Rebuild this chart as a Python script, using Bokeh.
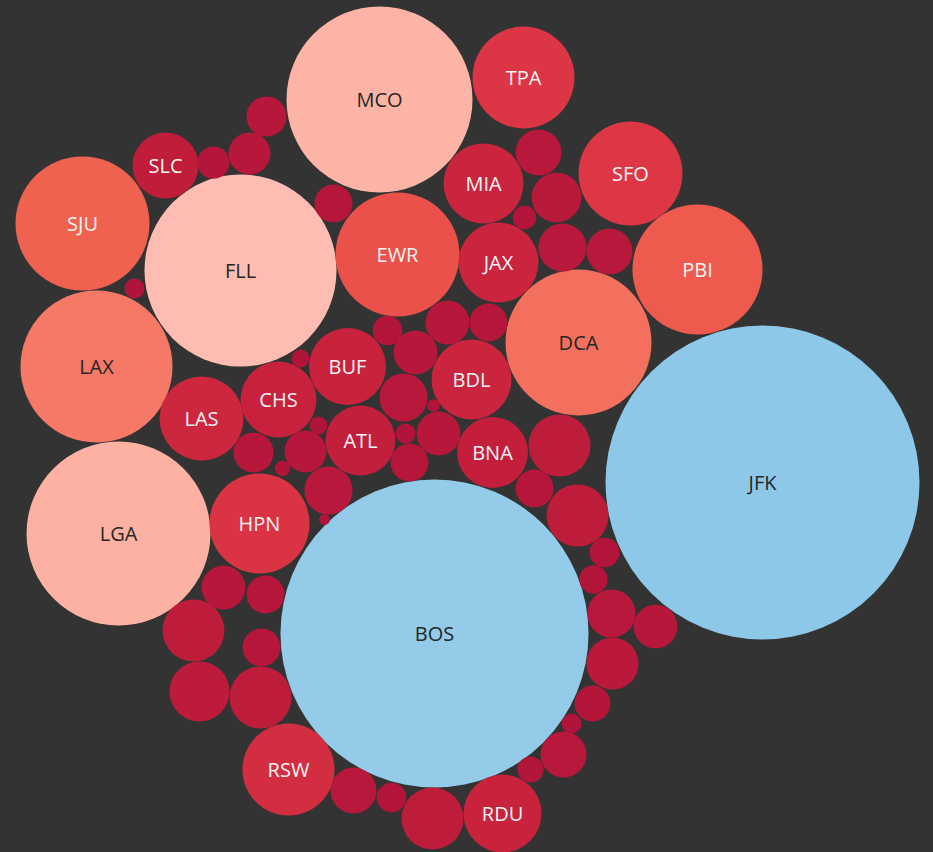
import math
from bokeh.plotting import figure
from bokeh.models import ColumnDataSource, Range1d
from bokeh.embed import file_html
from bokeh.resources import INLINE
from bokeh.core.properties import value

# ---- data ----
labelled_airports = ["JFK", "BOS", "FLL", "MCO", "LGA", "LAX", "DCA", "SJU", "PBI", "EWR",
                     "SFO", "TPA", "HPN", "RSW", "LAS", "MIA", "BDL", "JAX", "RDU", "BUF",
                     "CHS", "BNA", "ATL", "SLC"]
flights = [2465, 2372, 922, 865, 846, 578, 533, 449, 423, 384,
           270, 260, 250, 212, 176, 160, 160, 160, 152, 148,
           144, 126, 122, 109,
           40, 44, 26, 36, 10, 53, 62, 14, 58, 53, 48, 36, 22, 48, 8, 58, 4,
           8, 10, 48, 40, 44, 36, 6, 58, 3, 96, 36, 96, 22, 20, 58, 48,
           68, 32, 10, 53, 17, 53, 22, 96, 48, 36, 96, 36, 90, 96]
bubble_x = [762, 434, 240, 379, 118, 96, 578, 82, 697, 397,
            630, 523, 259, 288, 201, 483, 471, 498, 502, 347,
            278, 492, 360, 165,
            266, 249, 213, 333, 134, 538, 556, 524, 562, 609, 447, 488, 387, 415, 300, 403, 433,
            318, 405, 438, 253, 305, 409, 282, 328, 324, 559, 534, 577, 604, 593, 611, 655,
            612, 592, 571, 563, 530, 353, 391, 432, 223, 265, 193, 261, 199, 260]
bubble_y = [482, 633, 270, 99, 533, 366, 342, 223, 269, 254,
            173, 77, 523, 769, 418, 183, 379, 262, 813, 366,
            399, 452, 440, 165,
            116, 153, 162, 203, 288, 152, 197, 217, 247, 251, 322, 322, 330, 352, 358, 397, 405,
            425, 433, 433, 452, 451, 462, 468, 490, 519, 445, 488, 515, 552, 579, 613, 626,
            663, 703, 723, 754, 769, 790, 797, 818, 587, 594, 630, 647, 691, 697]
# bubbles too small to carry a label in the reference
airports = labelled_airports + [""] * (len(flights) - len(labelled_airports))

# ---- colour scale (diverging red -> pale -> blue) ----
stops = [(0, "#B0133A"), (100, "#BE1C3B"), (150, "#C8223D"), (260, "#DC3545"),
         (384, "#EA514B"), (440, "#F0604F"), (560, "#F47562"), (850, "#FDB2A4"),
         (920, "#FEBCB2"), (1300, "#F2EEEC"), (2372, "#93CBE8"), (2465, "#8DC8E8")]


def hex2rgb(h):
    return tuple(int(h[i:i + 2], 16) for i in (1, 3, 5))


def color_for(v):
    if v <= stops[0][0]:
        return stops[0][1]
    for (v0, c0), (v1, c1) in zip(stops[:-1], stops[1:]):
        if v0 <= v <= v1:
            t = (v - v0) / (v1 - v0)
            a, b = hex2rgb(c0), hex2rgb(c1)
            return "#%02x%02x%02x" % tuple(round(a[i] + (b[i] - a[i]) * t) for i in range(3))
    return stops[-1][1]


fills = [color_for(v) for v in flights]


def text_color(c):
    r, g, b = hex2rgb(c)
    lum = 0.299 * r + 0.587 * g + 0.114 * b
    return "#262626" if lum > 144 else "#F4F4F4"


src = ColumnDataSource(dict(
    x=bubble_x, y=bubble_y,
    r=[math.sqrt(v * 10) for v in flights],
    label=airports, fill=fills,
    tcolor=[text_color(c) for c in fills],
))

W, H = 933, 852
p = figure(width=W, height=H, output_backend="svg", toolbar_location=None,
           x_range=Range1d(0, W), y_range=Range1d(H, 0),
           x_axis_location=None, y_axis_location=None, min_border=0,
           background_fill_color="#333333", border_fill_color="#333333")
p.outline_line_color = None
p.grid.visible = False

p.circle(x="x", y="y", radius="r", fill_color="fill", line_color=None, source=src)
p.text(x="x", y="y", text="label", text_align="center", text_baseline="middle",
       text_font=value("Open Sans"), text_font_size="20px", text_color="tcolor", source=src)

html = file_html(p, INLINE)
html = html.replace("</head>", "<style>html,body{background:#333333;}</style></head>", 1)
open("out.html", "w").write(html)
